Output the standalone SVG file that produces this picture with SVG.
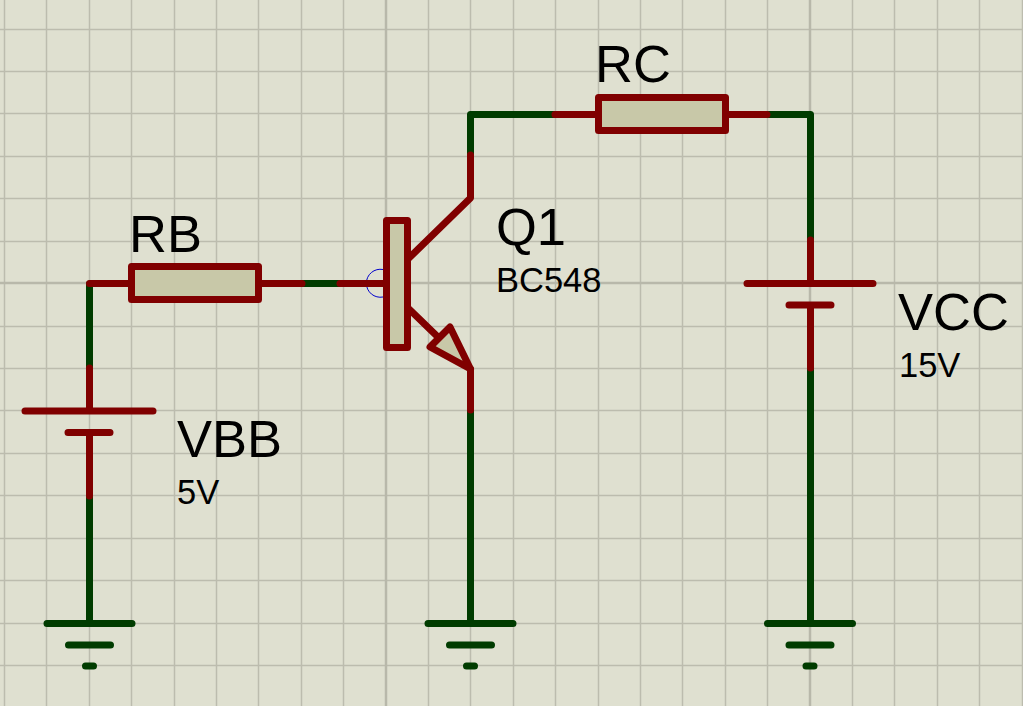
<svg xmlns="http://www.w3.org/2000/svg" width="1023" height="706" viewBox="0 0 1023 706">
<style>
.bg{fill:#dfe0d0}
.grid{stroke:#bcbcae;stroke-width:1.500;fill:none}
.major{stroke:#b8b8aa;stroke-width:2.500;fill:none}
.r,.g{fill:none;stroke-width:7;stroke-linecap:round;stroke-linejoin:round}
.r{stroke:#800000}
.g{stroke:#003c00}
.body{fill:#c8c8a8;stroke:#800000;stroke-width:7;stroke-linejoin:round}
.big{font:52.500px "Liberation Sans",Arial,sans-serif;fill:#000}
.small{font:34.500px "Liberation Sans",Arial,sans-serif;fill:#000}
</style>
<defs>
<g id="ground"><path class="g" d="M-42.500 0H42.500M-21 21.500H21M-4 42.500H4"/></g>
</defs>
<rect class="bg" width="1023" height="706"/>
<g id="grid">
<path class="grid" d="M4.500 0V706M46.500 0V706M89.500 0V706M131.500 0V706M174.500 0V706M216.500 0V706M258.500 0V706M301.500 0V706M343.500 0V706M428.500 0V706M470.500 0V706M513.500 0V706M555.500 0V706M598.500 0V706M640.500 0V706M682.500 0V706M725.500 0V706M767.500 0V706M852.500 0V706M894.500 0V706M937.500 0V706M979.500 0V706M1022.500 0V706"/>
<path class="grid" d="M0 29.500H1023M0 71.500H1023M0 113.500H1023M0 156.500H1023M0 198.500H1023M0 241.500H1023M0 326.500H1023M0 368.500H1023M0 410.500H1023M0 453.500H1023M0 495.500H1023M0 538.500H1023M0 580.500H1023M0 623.500H1023M0 665.500H1023"/>
<path class="major" d="M386 0V706M810 0V706M0 283H1023"/>
</g>
<g id="connectors">
<path class="g" d="M89.500 284V368"/>
<path class="g" d="M89.500 496V623"/>
<path class="g" d="M302 283.500H340"/>
<path class="g" d="M470.500 155V114.500H555"/>
<path class="g" d="M767 114.500H810.500V240"/>
<path class="g" d="M810.500 368V623"/>
<path class="g" d="M470.500 410V623"/>
</g>
<g id="RB">
<path class="r" d="M89.500 283.500H131M259 283.500H302"/>
<rect class="body" x="131.500" y="266.500" width="127" height="33"/>
<text class="big" x="129" y="252">RB</text>
</g>
<g id="RC">
<path class="r" d="M555 114.500H598M726 114.500H767"/>
<rect class="body" x="598.500" y="97.500" width="127" height="33"/>
<text class="big" x="595" y="82">RC</text>
</g>
<g id="Q1">
<path d="M383 269.500A14 14 0 1 0 383 297" fill="none" stroke="#0000cc" stroke-width="1"/>
<path class="r" d="M340 283.500H386"/>
<path class="r" d="M470.500 155V198L408 259"/>
<path class="r" d="M409 309L440 339"/>
<path class="r" d="M470.500 369V410"/>
<path class="body" d="M470.500 369L430 347L450 327Z"/>
<rect class="body" x="386.500" y="220.500" width="21" height="127"/>
<text class="big" x="496" y="245">Q1</text>
<text class="small" x="496" y="292">BC548</text>
</g>
<g id="VBB">
<path class="r" d="M89.500 368V411M25 411H153M68 432.500H110M89.500 433V496"/>
<text class="big" x="177" y="457">VBB</text>
<text class="small" x="177" y="504">5V</text>
</g>
<g id="VCC">
<path class="r" d="M810.500 240V283.500M747 283.500H873M789 305H831M810.500 305V368"/>
<text class="big" x="898" y="330">VCC</text>
<text class="small" x="899" y="377">15V</text>
</g>
<g id="GND1"><use href="#ground" x="89.500" y="623.500"/></g>
<g id="GND2"><use href="#ground" x="470.500" y="623.500"/></g>
<g id="GND3"><use href="#ground" x="810" y="623.500"/></g>
</svg>
